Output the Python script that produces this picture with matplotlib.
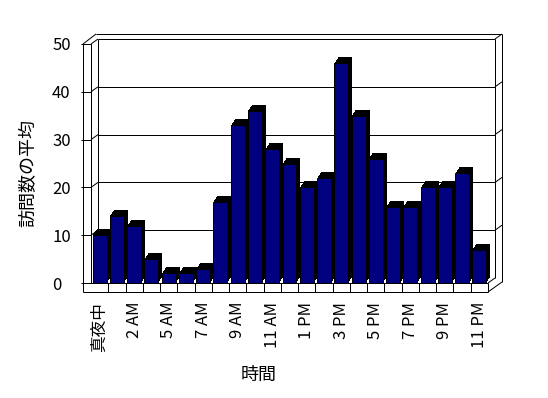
import matplotlib
matplotlib.use("Agg")
import matplotlib.pyplot as plt
from matplotlib.transforms import offset_copy
import numpy as np

plt.rcParams['font.family'] = ['Noto Sans CJK JP', 'DejaVu Sans']

categories = ['真夜中', '1 AM', '2 AM', '3 AM', '5 AM', '6 AM', '7 AM', '8 AM',
              '9 AM', '10 AM', '11 AM', '正午', '1 PM', '2 PM', '3 PM', '4 PM',
              '5 PM', '6 PM', '7 PM', '8 PM', '9 PM', '10 PM', '11 PM']
visits = [10, 14, 12, 5, 2, 2, 3, 17, 33, 36, 28, 25, 20, 22, 46, 35, 26,
          16, 16, 20, 20, 23, 7]
y_ticks = [0, 10, 20, 30, 40, 50]
y_label = '訪問数の平均'
x_label = '時間'

W, H = 548, 398
fig = plt.figure(figsize=(W / 100, H / 100), dpi=100)
fig.patch.set_facecolor('white')

# background axes in pixel coordinates (y down) for the walls
bg = fig.add_axes([0, 0, 1, 1], zorder=0)
bg.set_xlim(0, W)
bg.set_ylim(H, 0)
bg.axis('off')

# main data axes (front plane)
L, R, T, B = 91, 488, 44, 283
ax = fig.add_axes([L / W, (H - B) / H, (R - L) / W, (B - T) / H], zorder=1)
ax.set_facecolor('none')
n = len(visits)
x = np.arange(n)
ax.set_xlim(-0.5, n - 0.5)
ax.set_ylim(0, 50)
for s in ax.spines.values():
    s.set_visible(False)

LW = 0.72  # one pixel
bw = 0.81
# extrusion (black depth)
steps = 8
for k in range(1, steps + 1):
    tr = offset_copy(ax.transData, fig=fig, x=4.0 * k / steps, y=6.0 * k / steps, units='dots')
    ax.bar(x, visits, width=bw, color='black', linewidth=0, transform=tr,
           zorder=2, clip_on=False)
ax.bar(x, visits, width=bw, color='#000080', edgecolor='black', linewidth=LW,
       zorder=3, clip_on=False)

ax.set_xlim(-0.5, n - 0.5)
ax.set_ylim(0, 50)

ax.set_xticks(x[::2])
ax.set_xticklabels(categories[::2], rotation=90, fontsize=12)
ax.tick_params(axis='x', length=0, pad=13.5)
ax.set_yticks(y_ticks)
ax.set_yticklabels([str(v) for v in y_ticks], fontsize=12)
ax.tick_params(axis='y', length=0, pad=28)
for lab in ax.get_yticklabels():
    lab.set_horizontalalignment('left')


def P(xv, yv):
    px, py = ax.transData.transform((xv, yv))
    return px, H - py


X0 = P(-0.5, 0)[0]
X1 = P(n - 0.5, 0)[0]


def Y(v):
    return P(0, v)[1]


segs = []
Y0, Y50 = Y(0), Y(50)
# left slab
segs.append(((X0 - 8, Y50), (X0 - 8, Y0 + 9)))
segs.append(((X0, Y50), (X0, Y0)))
segs.append(((X0 + 7, Y50 - 5), (X0 + 7, Y0 - 5)))
# top
segs.append(((X0 - 8, Y50), (X0 + 5, Y50 - 10)))
segs.append(((X0 + 5, Y50 - 10), (X1 + 14, Y50 - 10)))
segs.append(((X1 + 14, Y50 - 10), (X1 + 14, Y0 - 1)))
segs.append(((X1 + 7, Y50 - 5), (X1 + 7, Y0 - 5)))
# gridlines & ticks
for v in y_ticks:
    yv = Y(v)
    segs.append(((X0 - 10, yv), (X0, yv)))
    if v > 0:
        segs.append(((X0, yv), (X0 + 7, yv - 5)))
        segs.append(((X0 + 7, yv - 5), (X1 + 7, yv - 5)))
        segs.append(((X1 + 7, yv - 5), (X1 + 14, yv - 10)))
# floor front face
segs.append(((X0 - 8, Y0), (X1, Y0)))
segs.append(((X0 - 8, Y0 + 9), (X1, Y0 + 9)))
for i in range(1, n + 1):
    xb = P(i - 0.5, 0)[0]
    segs.append(((xb, Y0), (xb, Y0 + 9)))
segs.append(((X1, Y0 + 9), (X1 + 14, Y0 - 1)))
segs.append(((X1, Y0), (X1 + 7, Y0 - 5)))

for (a, b) in segs:
    bg.plot([a[0], b[0]], [a[1], b[1]], color='black', linewidth=LW,
            solid_capstyle='butt')

fig.text(28 / W, 1 - 173 / H, y_label, rotation=90, ha='center', va='center', fontsize=13)
fig.text(259 / W, 1 - 375 / H, x_label, ha='center', va='center', fontsize=13)

fig.savefig('out.png', dpi=100, facecolor='white')
